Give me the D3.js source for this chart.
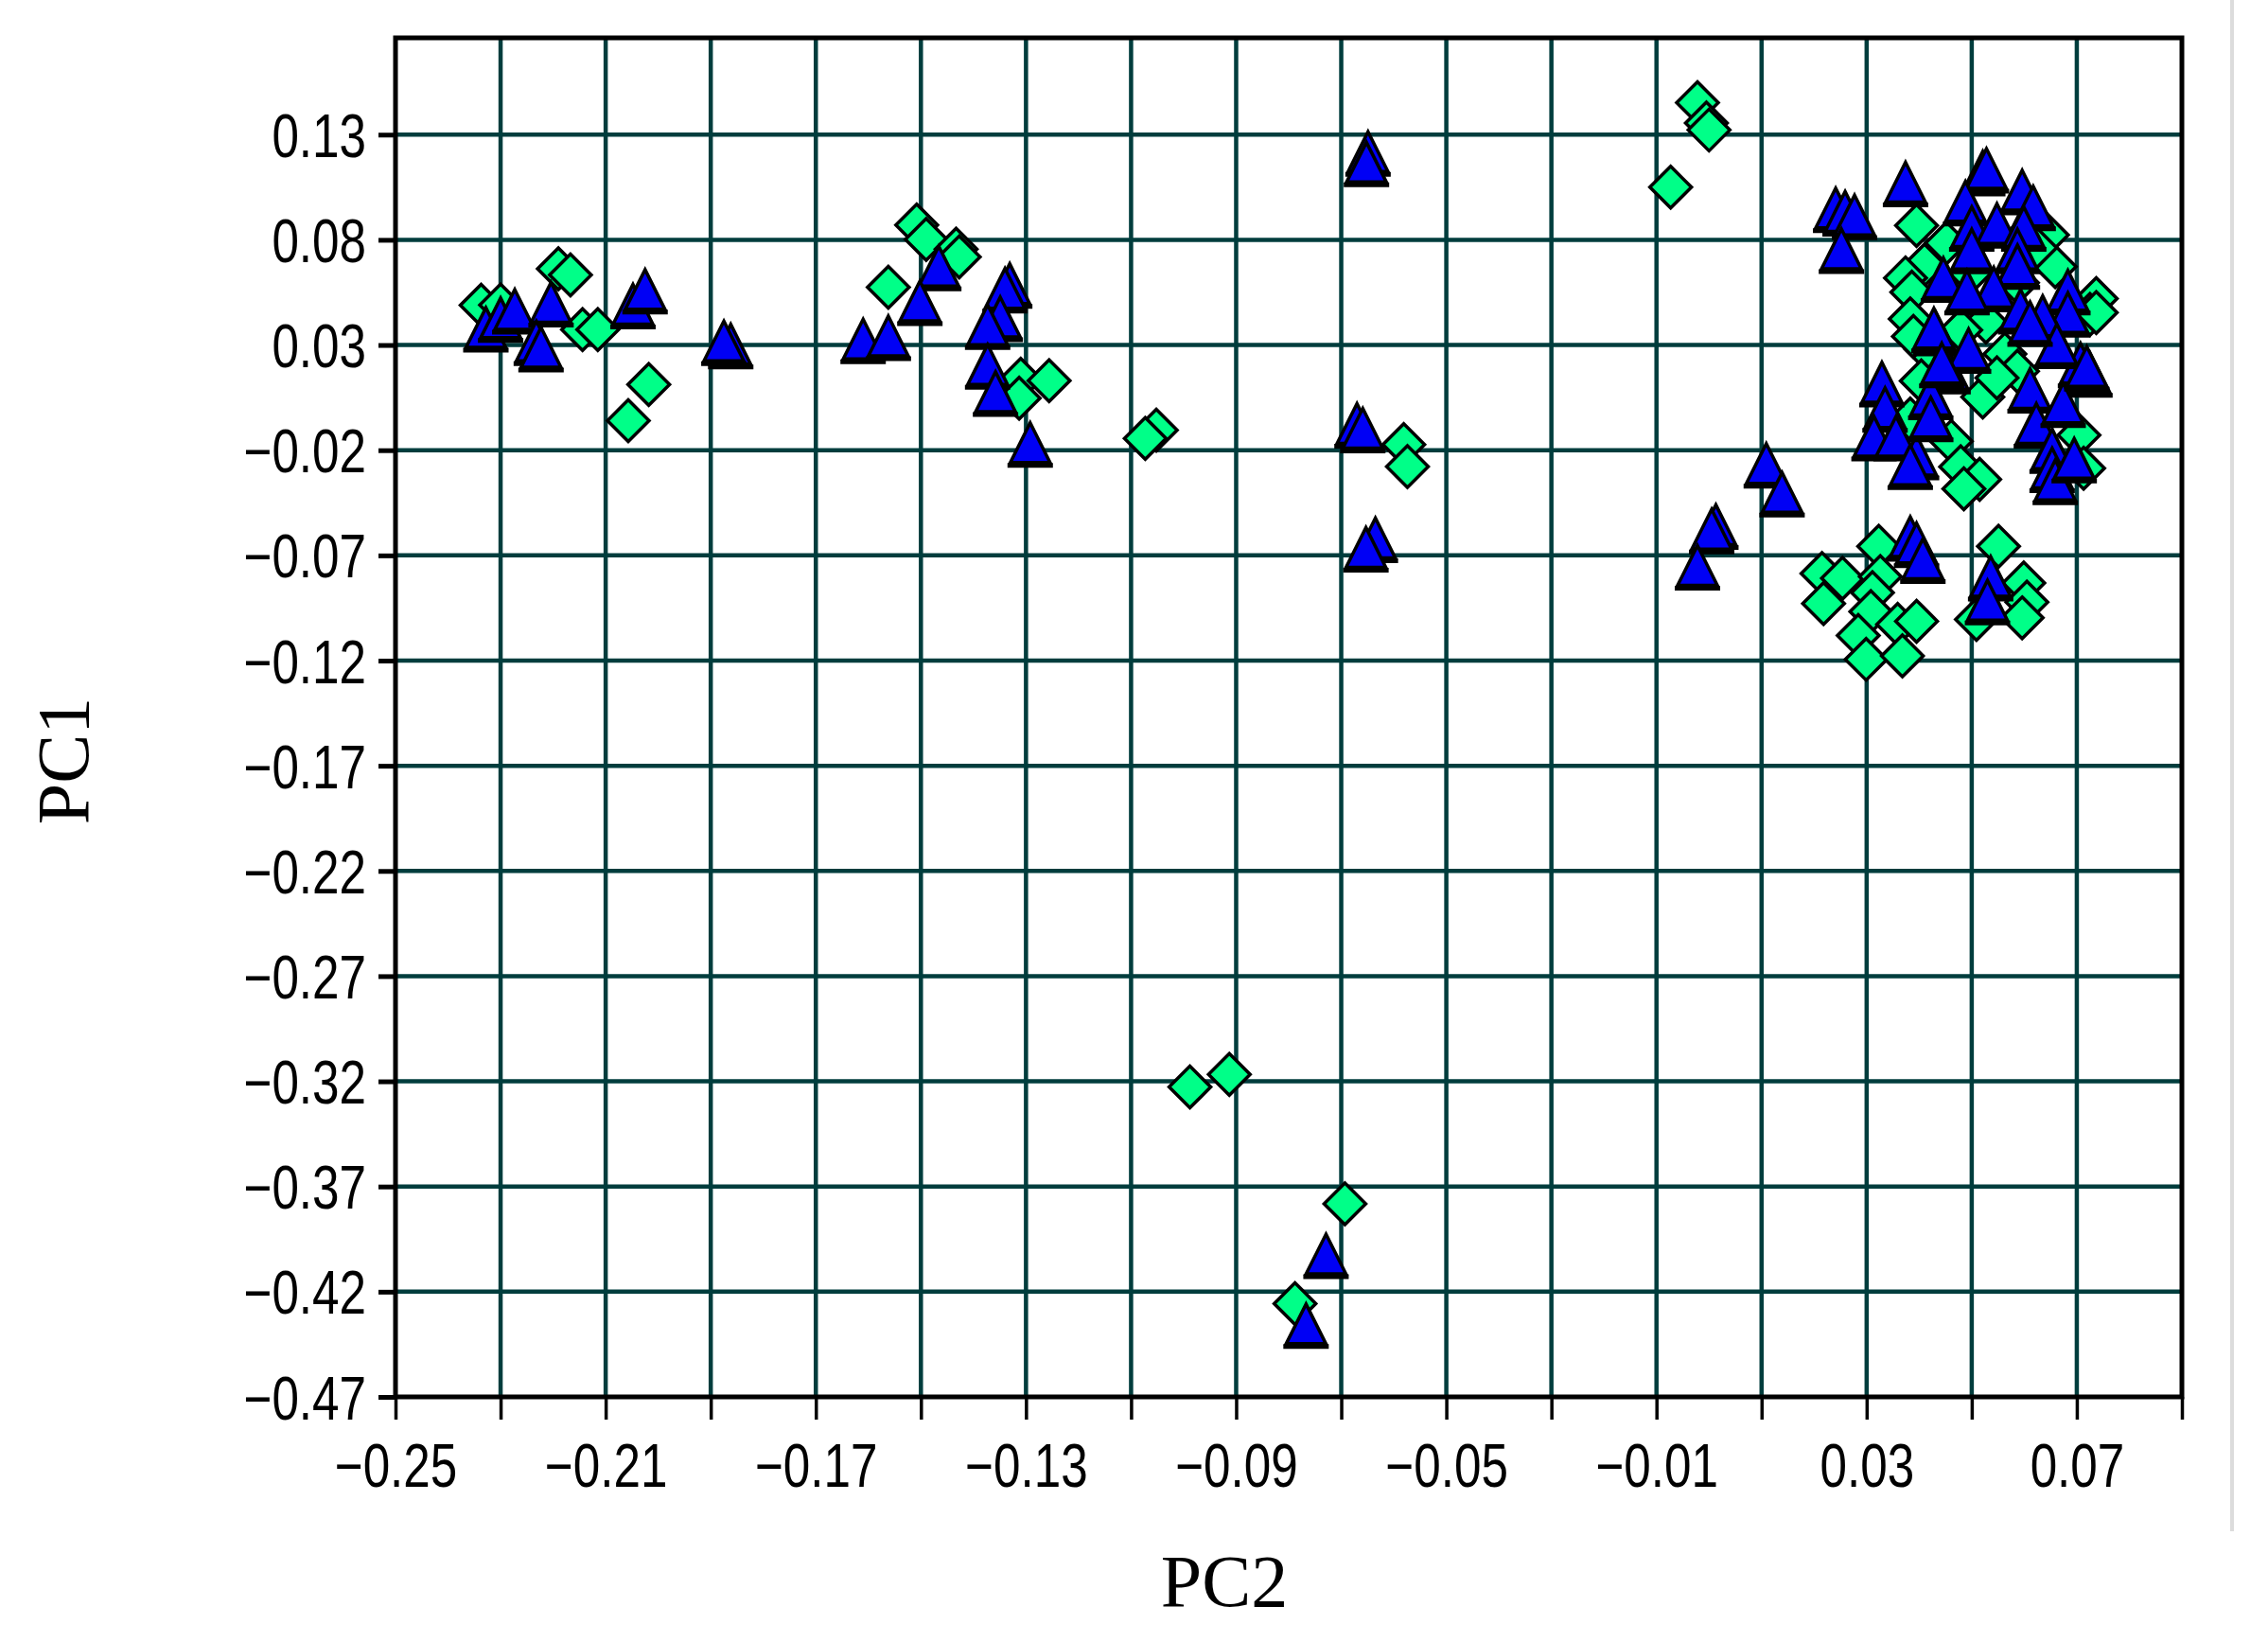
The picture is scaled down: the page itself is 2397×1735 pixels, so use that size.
<!DOCTYPE html>
<html>
<head>
<meta charset="utf-8">
<script src="https://cdn.jsdelivr.net/npm/d3@7"></script>
<style>
  html, body { margin: 0; padding: 0; background: #ffffff; }
  svg { display: block; }
</style>
</head>
<body>
<svg id="chart" width="2397" height="1735"></svg>
<script>
// ---------------- DATA ----------------
// Series 1: blue triangles  [PC2, PC1]
const trianglePC2 = [
  -0.2328, -0.2300, -0.2273, -0.2204, -0.2232, -0.2223, -0.2048, -0.2025, -0.1862, -0.1875,
  -0.1466, -0.1502, -0.1610, -0.1562, -0.1331, -0.1340, -0.1349, -0.1373, -0.1373, -0.1358, -0.1292,
  -0.0649, -0.0652, -0.0670, -0.0659, -0.0635, -0.0653,
  -0.0729, -0.0767,
  0.0241, 0.0259, 0.0277, 0.0252, 0.0109, 0.0139, 0.0013, 0.0005, -0.0022,
  0.0374, 0.0521, 0.0528, 0.0488, 0.0596, 0.0617, 0.0500, 0.0548, 0.0599, 0.0500, 0.0587, 0.0587,
  0.0446, 0.0542, 0.0683, 0.0491, 0.0593, 0.0431, 0.0683, 0.0635, 0.0707, 0.0725, 0.0455,
  0.0329, 0.0335, 0.0314, 0.0356, 0.0395, 0.0383, 0.0422, 0.0422, 0.0494, 0.0428, 0.0443,
  0.0611, 0.0623, 0.0674, 0.0662, 0.0719, 0.0653, 0.0653, 0.0659, 0.0695, 0.0611,
  0.0383, 0.0395, 0.0407, 0.0536, 0.0530
];
const trianglePC1 = [
  0.0374, 0.0420, 0.0460, 0.0494, 0.0310, 0.0280, 0.0485, 0.0555, 0.0295, 0.0310,
  0.0666, 0.0500, 0.0319, 0.0334, 0.0583, 0.0560, 0.0424, 0.0387, 0.0198, 0.0069, -0.0173,
  0.1210, 0.1160, -0.0082, -0.0105, -0.0626, -0.0671,
  -0.4030, -0.4362,
  0.0942, 0.0926, 0.0909, 0.0748, -0.0272, -0.0410, -0.0563, -0.0585, -0.0757,
  0.1065, 0.1117, 0.1130, 0.0974, 0.1027, 0.0951, 0.0853, 0.0868, 0.0853, 0.0747, 0.0747, 0.0672,
  0.0611, 0.0566, 0.0551, 0.0551, 0.0460, 0.0356, 0.0445, 0.0430, 0.0205, 0.0160, 0.0175,
  0.0114, -0.0007, -0.0143, -0.0143, -0.0233, -0.0279, 0.0053, -0.0052, 0.0273, 0.0371, 0.0205,
  0.0084, -0.0082, 0.0016, 0.0296, 0.0189, -0.0203, -0.0294, -0.0351, -0.0248, 0.0401,
  -0.0620, -0.0650, -0.0725, -0.0809, -0.0922
];

// Series 2: green diamonds  [PC2, PC1]
const diamondPC2 = [
  -0.2337, -0.2300, -0.2190, -0.2167, -0.2144, -0.2115, -0.2018, -0.2057,
  -0.1508, -0.1490, -0.1433, -0.1427, -0.1562, -0.1310, -0.1256, -0.1313, -0.1052, -0.1073,
  -0.0581, -0.0574,
  -0.0988, -0.0913, -0.0693, -0.0788,
  -0.0022, -0.0005, 0.0000, -0.0073,
  0.0395, 0.0452, 0.0410, 0.0374, 0.0386, 0.0659, 0.0644, 0.0497, 0.0587, 0.0737, 0.0622, 0.0725,
  0.0527, 0.0413, 0.0479,
  0.0521, 0.0563, 0.0587, 0.0548, 0.0461, 0.0479, 0.0515, 0.0485, 0.0404, 0.0383, 0.0704, 0.0713,
  0.0737, 0.0389, 0.0383,
  0.0215, 0.0254, 0.0218, 0.0323, 0.0326, 0.0311, 0.0308, 0.0284, 0.0299, 0.0359, 0.0395, 0.0368,
  0.0551, 0.0509, 0.0599, 0.0605, 0.0596
];
const diamondPC1 = [
  0.0489, 0.0490, 0.0662, 0.0633, 0.0373, 0.0373, 0.0112, -0.0060,
  0.0870, 0.0802, 0.0756, 0.0719, 0.0575, 0.0137, 0.0130, 0.0047, -0.0105, -0.0144,
  -0.0173, -0.0278,
  -0.3227, -0.3167, -0.3782, -0.4257,
  0.1452, 0.1355, 0.1322, 0.1050,
  0.0868, 0.0785, 0.0680, 0.0619, 0.0551, 0.0672, 0.0823, 0.0641, 0.0596, 0.0521, 0.0762, 0.0445,
  0.0409, 0.0280, 0.0371,
  0.0053, 0.0257, 0.0175, 0.0144, -0.0158, -0.0279, -0.0339, -0.0384, 0.0129, 0.0424, -0.0128, -0.0286,
  0.0454, 0.0341, -0.0052,
  -0.0786, -0.0809, -0.0929, -0.0657, -0.0801, -0.0877, -0.0967, -0.1081, -0.1194, -0.1028, -0.1013, -0.1178,
  -0.0657, -0.1004, -0.0831, -0.0922, -0.0997
];

// Axis ticks
const xTickValues = [-0.25, -0.21, -0.17, -0.13, -0.09, -0.05, -0.01, 0.03, 0.07];
const xTickLabels = ["\u22120.25", "\u22120.21", "\u22120.17", "\u22120.13", "\u22120.09", "\u22120.05", "\u22120.01", "0.03", "0.07"];
const xGridValues = [-0.25, -0.23, -0.21, -0.19, -0.17, -0.15, -0.13, -0.11, -0.09, -0.07, -0.05, -0.03, -0.01, 0.01, 0.03, 0.05, 0.07, 0.09];
const yTickValues = [0.13, 0.08, 0.03, -0.02, -0.07, -0.12, -0.17, -0.22, -0.27, -0.32, -0.37, -0.42, -0.47];
const yTickLabels = ["0.13", "0.08", "0.03", "\u22120.02", "\u22120.07", "\u22120.12", "\u22120.17", "\u22120.22", "\u22120.27", "\u22120.32", "\u22120.37", "\u22120.42", "\u22120.47"];
const xTitle = "PC2";
const yTitle = "PC1";
const xDomain = [-0.25, 0.09];
const yDomain = [-0.47, 0.176];

// ---------------- LAYOUT ----------------
const plot = { left: 418, right: 2306, top: 40, bottom: 1476 };
const svg = d3.select("#chart");

const x = d3.scaleLinear().domain(xDomain).range([plot.left, plot.right]);
const y = d3.scaleLinear().domain(yDomain).range([plot.bottom, plot.top]);

const tickFont = "'Liberation Sans', Arial, sans-serif";
const titleFont = "'Liberation Serif', 'Times New Roman', serif";
const narrow = 0.8;   // horizontal condensing of the tick-label face

// faint right-hand separator line
svg.append("line")
  .attr("x1", 2359).attr("x2", 2359).attr("y1", 0).attr("y2", 1618)
  .attr("stroke", "#dcdcdc").attr("stroke-width", 4);

// gridlines
const gridColor = "#003d3d";
svg.append("g").selectAll("line.vg")
  .data(xGridValues.slice(1, -1)).join("line")
  .attr("x1", d => x(d)).attr("x2", d => x(d))
  .attr("y1", plot.top).attr("y2", plot.bottom)
  .attr("stroke", gridColor).attr("stroke-width", 4.5);
svg.append("g").selectAll("line.hg")
  .data(yTickValues.slice(0, -1)).join("line")
  .attr("x1", plot.left).attr("x2", plot.right)
  .attr("y1", d => y(d)).attr("y2", d => y(d))
  .attr("stroke", gridColor).attr("stroke-width", 4.5);

// axes (tick marks + labels) via d3 axes
const xAxis = d3.axisBottom(x)
  .tickValues(xGridValues)
  .tickSize(24)
  .tickPadding(26)
  .tickFormat(d => {
    const i = xTickValues.findIndex(v => Math.abs(v - d) < 1e-9);
    return i >= 0 ? xTickLabels[i] : "";
  });
const gx = svg.append("g").attr("transform", `translate(0,${plot.bottom})`).call(xAxis);
gx.select(".domain").remove();
gx.selectAll(".tick line").attr("stroke", "#000").attr("stroke-width", 3.5);
gx.selectAll(".tick text")
  .attr("fill", "#000")
  .attr("transform", `scale(${narrow},1)`)
  .style("font-family", tickFont)
  .style("font-size", "64px");

const yAxis = d3.axisLeft(y)
  .tickValues(yTickValues)
  .tickSize(18)
  .tickPadding(14)
  .tickFormat((d, i) => yTickLabels[i]);
const gy = svg.append("g").attr("transform", `translate(${plot.left},0)`).call(yAxis);
gy.select(".domain").remove();
gy.selectAll(".tick line").attr("stroke", "#000").attr("stroke-width", 5);
gy.selectAll(".tick text")
  .attr("fill", "#000")
  .attr("x", -31 / narrow)
  .attr("dy", "0.36em")
  .attr("transform", `scale(${narrow},1)`)
  .style("font-family", tickFont)
  .style("font-size", "64px");

// plot border
svg.append("rect")
  .attr("x", plot.left).attr("y", plot.top)
  .attr("width", plot.right - plot.left).attr("height", plot.bottom - plot.top)
  .attr("fill", "none").attr("stroke", "#000").attr("stroke-width", 5);

// markers
const diamonds = diamondPC2.map((v, i) => ({ pc2: v, pc1: diamondPC1[i] }));
const triangles = trianglePC2.map((v, i) => ({ pc2: v, pc1: trianglePC1[i] }));

const gm = svg.append("g");
gm.selectAll("path.dia").data(diamonds).join("path")
  .attr("class", "dia")
  .attr("transform", d => `translate(${x(d.pc2)},${y(d.pc1)})`)
  .attr("d", "M0,-22 L22,0 L0,22 L-22,0 Z")
  .attr("fill", "#00ff88")
  .attr("stroke", "#000")
  .attr("stroke-width", 3.5)
  .attr("stroke-linejoin", "miter");

const tri = gm.selectAll("g.tri").data(triangles).join("g")
  .attr("class", "tri")
  .attr("transform", d => `translate(${x(d.pc2)},${y(d.pc1)})`);
tri.append("path")
  .attr("d", "M-24,22 L24,22")
  .attr("stroke", "#000").attr("stroke-width", 5);
tri.append("path")
  .attr("d", "M0,-23 L21,19 L-21,19 Z")
  .attr("fill", "#0000f5")
  .attr("stroke", "#000")
  .attr("stroke-width", 3.5)
  .attr("stroke-linejoin", "miter");

// axis titles
svg.append("text")
  .attr("x", 1294).attr("y", 1697)
  .attr("text-anchor", "middle")
  .style("font-family", titleFont)
  .style("font-size", "78px")
  .attr("fill", "#000")
  .text(xTitle);

svg.append("text")
  .attr("transform", "translate(93,804) rotate(-90)")
  .attr("text-anchor", "middle")
  .style("font-family", titleFont)
  .style("font-size", "78px")
  .attr("fill", "#000")
  .text(yTitle);
</script>
</body>
</html>
